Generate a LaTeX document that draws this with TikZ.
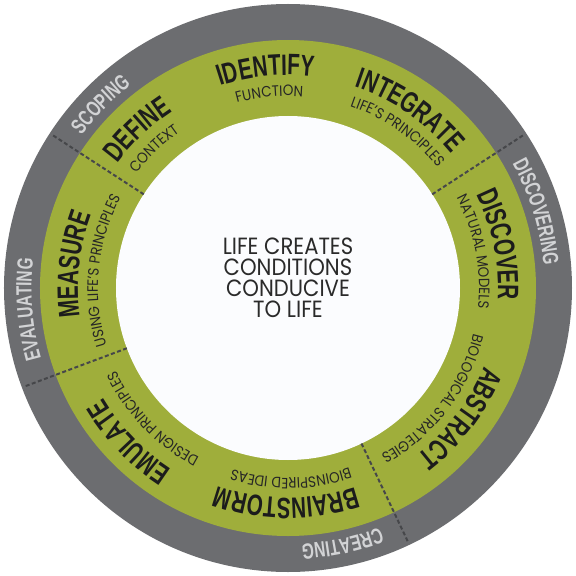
\documentclass[tikz,border=0pt]{standalone}
\usepackage{fontspec}
\usetikzlibrary{decorations.text}
\newfontfamily\condfont[FakeStretch=0.70]{Liberation Sans}
\newfontfamily\graylabfont[FakeStretch=0.70]{Liberation Sans}
\newfontfamily\geofont[FakeStretch=0.9]{Poppins}
\definecolor{ringgray}{HTML}{6C6D70}
\definecolor{ringgreen}{HTML}{9FAE3B}
\definecolor{corewhite}{HTML}{FBFCFE}
\definecolor{dividerink}{HTML}{46474A}
\definecolor{titleink}{HTML}{1C1C1C}
\definecolor{subink}{HTML}{262626}
\definecolor{graylabink}{HTML}{D2D3D5}
\definecolor{coreink}{HTML}{2A2A2A}
\tikzset{
  divider/.style={draw=dividerink, line width=2pt, dash pattern=on 4pt off 2.5pt},
  centertext/.style={align=center, text=coreink, font=\geofont\fontsize{23.5}{21}\selectfont, inner sep=0pt},
}
\newcommand\arctext[5]{%
  \path[decorate,decoration={text along path,text={|#3|#5},text align=center,text color=#4}]
    ({#1+80}:#2) arc[start angle={#1+80},end angle={#1-80},radius=#2];}
\newcommand\titlefmt{\condfont\bfseries\fontsize{29.5}{29.5}\selectfont}
\newcommand\subfmt{\geofont\fontsize{15}{15}\selectfont}
\newcommand\grayfmt{\graylabfont\bfseries\fontsize{22}{22}\selectfont}
\begin{document}
\begin{tikzpicture}
\useasboundingbox (-288pt,-288pt) rectangle (288pt,288pt);
\fill[ringgray] (0,0) circle[radius=284pt];
\fill[ringgreen] (0,0) circle[radius=248pt];
\fill[corewhite] (0,0) circle[radius=172pt];
% dividers
\foreach \a/\n in {147/a,33/b,-64.7/c,200.5/d} {
  \coordinate (div\n in) at (\a:172pt);
  \coordinate (div\n out) at (\a:282pt);
  \draw[divider] (div\n in) -- (div\n out);
}
% outer ring labels
\arctext{135.6}{256.5pt}{\grayfmt}{graylabink}{SCOPING}
\arctext{17}{256.5pt}{\grayfmt}{graylabink}{DISCOVERING}
\arctext{-78}{256.5pt}{\grayfmt}{graylabink}{CREATING}
\arctext{184.7}{256.5pt}{\grayfmt}{graylabink}{EVALUATING}
% step titles
\arctext{133.5}{211pt}{\titlefmt}{titleink}{DEFINE}
\arctext{95.8}{213pt}{\titlefmt}{titleink}{IDENTIFY}
\arctext{55.5}{212pt}{\titlefmt}{titleink}{INTEGRATE}
\arctext{11.6}{210pt}{\titlefmt}{titleink}{DISCOVER}
\arctext{-37.1}{211pt}{\titlefmt}{titleink}{ABSTRACT}
\arctext{-90.5}{210pt}{\titlefmt}{titleink}{BRAINSTORM}
\arctext{224}{215pt}{\titlefmt}{titleink}{EMULATE}
\arctext{173.7}{210pt}{\titlefmt}{titleink}{MEASURE}
% step subtitles
\arctext{133.8}{190pt}{\subfmt}{subink}{CONTEXT}
\arctext{95.5}{192pt}{\subfmt}{subink}{FUNCTION}
\arctext{55}{192pt}{\subfmt}{subink}{LIFE’S PRINCIPLES}
\arctext{11}{191pt}{\subfmt}{subink}{NATURAL MODELS}
\arctext{-37.4}{191pt}{\subfmt}{subink}{BIOLOGICAL STRATEGIES}
\arctext{-89.1}{190pt}{\subfmt}{subink}{BIOINSPIRED IDEAS}
\arctext{224}{191pt}{\subfmt}{subink}{DESIGN PRINCIPLES}
\arctext{174.5}{190pt}{\subfmt}{subink}{USING LIFE’S PRINCIPLES}
% centre
\node[centertext] (core) at (0,10pt) {LIFE CREATES\\CONDITIONS\\CONDUCIVE\hspace*{6pt}\\TO LIFE};
\end{tikzpicture}
\end{document}
